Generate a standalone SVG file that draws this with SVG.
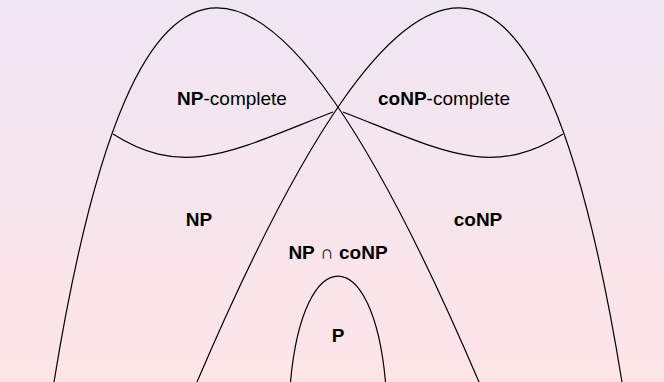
<svg xmlns="http://www.w3.org/2000/svg" width="664" height="382" viewBox="0 0 664 382">
  <defs>
    <linearGradient id="bg" x1="0" y1="0" x2="0" y2="1">
      <stop offset="0" stop-color="#efe6f3"/>
      <stop offset="1" stop-color="#fde4e7"/>
    </linearGradient>
  </defs>
  <style>
    .c { fill: none; stroke: #000; stroke-width: 1.2; }
    text { font-family: "Liberation Sans", Arial, sans-serif; font-size: 19px; fill: #000; text-anchor: middle; }
    .b { font-weight: bold; }
  </style>
  <rect x="0" y="0" width="664" height="382" fill="url(#bg)"/>
  <g id="curves">
    <path id="np-arch" class="c" d="M54,382 C135,-116.7 266,-116.7 479,382"/>
    <path id="conp-arch" class="c" d="M197,382 C410,-116.7 541,-116.7 622,382"/>
    <path id="np-complete-border" class="c" d="M113,134 C185,180 235,150 333,112"/>
    <path id="conp-complete-border" class="c" d="M343,112 C441,150 491,180 563,134"/>
    <path id="p-arch" class="c" d="M290.5,382 C303.1,240.7 372.9,240.7 385.5,382"/>
  </g>
  <g id="np-complete"><text x="232" y="105"><tspan class="b">NP</tspan>-complete</text></g>
  <g id="conp-complete"><text x="444" y="105"><tspan class="b">coNP</tspan>-complete</text></g>
  <g id="np"><text class="b" x="199" y="226">NP</text></g>
  <g id="conp"><text class="b" x="478" y="226">coNP</text></g>
  <g id="np-cap-conp"><text x="338" y="259"><tspan class="b">NP</tspan> ∩ <tspan class="b">coNP</tspan></text></g>
  <g id="p"><text class="b" x="338" y="342">P</text></g>
</svg>
